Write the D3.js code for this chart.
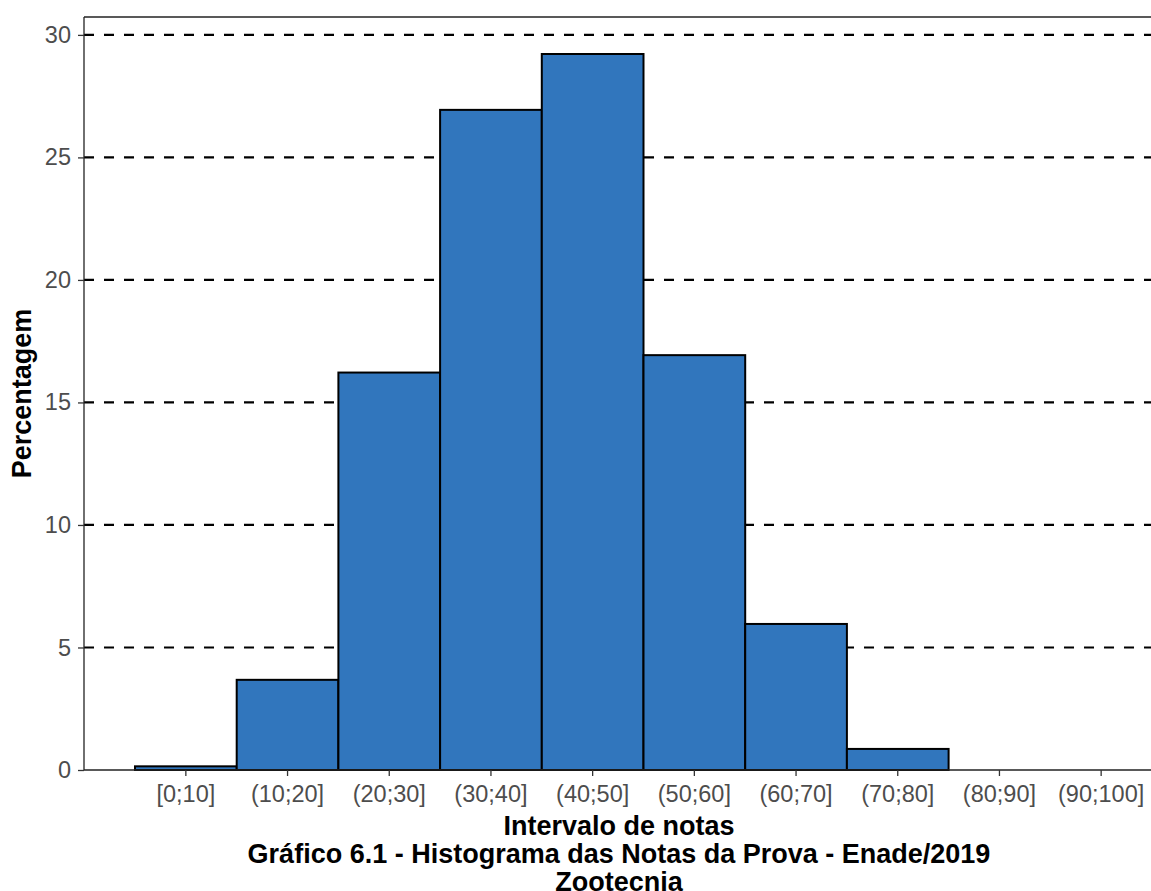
<!DOCTYPE html>
<html>
<head>
<meta charset="utf-8">
<script src="https://cdn.jsdelivr.net/npm/d3@7"></script>
<style>
  body { margin: 0; background: #fff; }
  text { font-family: "Liberation Sans", Arial, sans-serif; }
</style>
</head>
<body>
<div id="main"></div>
<script>
// categories and percentages
var categories = ["[0;10]", "(10;20]", "(20;30]", "(30;40]", "(40;50]",
                  "(50;60]", "(60;70]", "(70;80]", "(80;90]", "(90;100]"];
var percentages = [0.15, 3.68, 16.22, 26.94, 29.22, 16.93, 5.96, 0.86, 0, 0];
var yTicks = [0, 5, 10, 15, 20, 25, 30];
var gridTicks = [5, 10, 15, 20, 25, 30];

var width = 1151, height = 891;
var panelLeft = 84, panelTop = 17, panelBottom = 770, panelRight = 1152;

var svg = d3.select("#main").append("svg")
    .attr("width", width)
    .attr("height", height);

var x = d3.scaleBand()
    .domain(categories)
    .range([135, 1152])
    .padding(0);

var y = d3.scaleLinear()
    .domain([0, 30.73])
    .range([panelBottom, panelTop]);

// dashed grid lines (under the bars)
svg.append("g")
  .selectAll("line")
  .data(gridTicks)
  .join("line")
    .attr("x1", panelLeft)
    .attr("x2", panelRight)
    .attr("y1", d => y(d))
    .attr("y2", d => y(d))
    .attr("stroke", "#000")
    .attr("stroke-width", 2.2)
    .attr("stroke-dasharray", "10,10");

// bars
svg.append("g")
  .selectAll("rect")
  .data(percentages)
  .join("rect")
    .attr("x", (d, i) => x(categories[i]))
    .attr("y", d => y(d))
    .attr("width", x.bandwidth())
    .attr("height", d => panelBottom - y(d))
    .attr("fill", d => d > 0 ? "#3176bd" : "none")
    .attr("stroke", d => d > 0 ? "#000" : "none")
    .attr("stroke-width", 2);

// top border of the panel
svg.append("line")
    .attr("x1", panelLeft).attr("x2", panelRight)
    .attr("y1", panelTop).attr("y2", panelTop)
    .attr("stroke", "#222").attr("stroke-width", 1.3);

// y axis
var yAxis = svg.append("g")
    .attr("transform", "translate(" + panelLeft + ",0)")
    .call(d3.axisLeft(y).tickValues(yTicks).tickSize(6).tickPadding(7));
yAxis.select(".domain").attr("d", "M0," + panelTop + "V" + panelBottom)
    .attr("stroke", "#222").attr("stroke-width", 1.3);

// x axis
var xAxis = svg.append("g")
    .attr("transform", "translate(0," + panelBottom + ")")
    .call(d3.axisBottom(x).tickSize(6).tickPadding(9));
xAxis.select(".domain").attr("d", "M" + panelLeft + ",0H" + panelRight)
    .attr("stroke", "#222").attr("stroke-width", 1.3);

svg.selectAll(".tick line").attr("stroke", "#333").attr("stroke-width", 1.3);
svg.selectAll(".tick text")
    .attr("fill", "#4d4d4d")
    .style("font-size", "23.5px")
    .style("font-family", "'Liberation Sans', Arial, sans-serif");

// y title
svg.append("text")
    .attr("transform", "translate(31," + ((panelTop + panelBottom) / 2) + ") rotate(-90)")
    .attr("text-anchor", "middle")
    .style("font-size", "27px")
    .style("font-weight", "bold")
    .text("Percentagem");

// x title + caption
var titleLines = ["Intervalo de notas",
                  "Gráfico 6.1 - Histograma das Notas da Prova - Enade/2019",
                  "Zootecnia"];
svg.append("g")
  .selectAll("text")
  .data(titleLines)
  .join("text")
    .attr("x", 619)
    .attr("y", (d, i) => 835 + i * 28)
    .attr("text-anchor", "middle")
    .style("font-size", "27px")
    .style("font-weight", "bold")
    .text(d => d);
</script>
</body>
</html>
